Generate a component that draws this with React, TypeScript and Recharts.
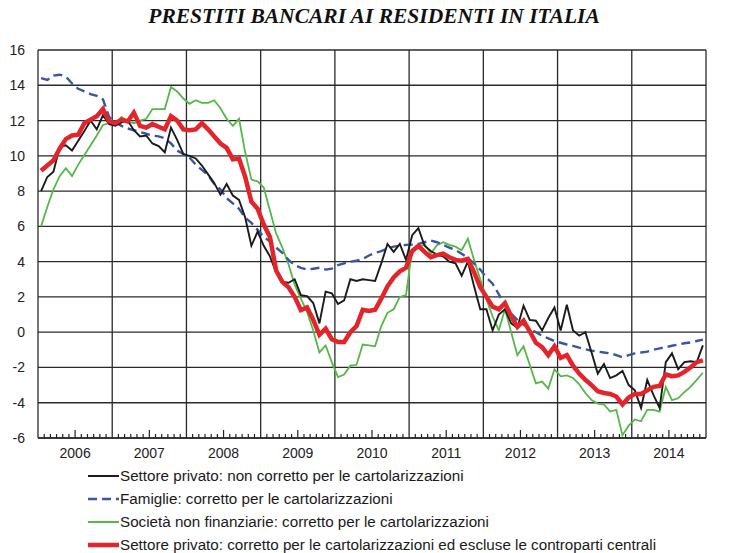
import React from 'react';
import { LineChart, Line, XAxis, YAxis, CartesianGrid, ReferenceLine } from 'recharts';

// Tassi di crescita sui 12 mesi, dati mensili gen 2006 - dic 2014
const years = ['2006', '2007', '2008', '2009', '2010', '2011', '2012', '2013', '2014'];

const privatoNonCorretto = [
  8.0, 8.8, 9.1, 10.5, 10.6, 10.3, 10.85, 11.4, 12.0, 11.5, 12.3, 11.8,
  11.7, 11.9, 12.0, 11.45, 11.1, 11.15, 10.7, 10.55, 10.2, 11.6, 10.9, 10.1,
  10.0, 9.85, 9.45, 8.95, 8.45, 7.8, 8.4, 7.75, 7.5, 6.5, 4.9, 5.7,
  4.9, 4.3, 3.4, 2.85, 2.8, 3.0, 2.1, 2.05, 1.65, 0.5, 2.3, 2.2,
  1.6, 1.8, 3.0, 2.9, 3.0, 2.95, 2.9, 3.9, 5.0, 4.55, 5.0, 4.1,
  5.5, 5.9, 4.9, 4.6, 4.4, 4.3, 4.0, 3.9, 3.2, 4.0, 2.6, 1.3,
  1.3, 0.1, 1.0, 1.3, 0.5, 0.25, 1.5, 0.7, 0.65, 0.1, 0.8, 1.4,
  0.1, 1.55, 0.1, -0.2, 0.0, -1.15, -2.35, -1.8, -2.6, -2.45, -2.2, -3.0,
  -3.3, -4.3, -2.7, -3.55, -4.3, -1.7, -1.2, -2.1, -1.7, -1.65, -1.7, -0.75,
];

const famiglie = [
  14.4, 14.3, 14.55, 14.6, 14.5, 14.1, 13.8, 13.65, 13.5, 13.4, 13.2, 12.2,
  11.9, 11.7, 11.55, 11.45, 11.35, 11.25, 11.15, 11.1, 11.0, 10.7, 10.3, 10.1,
  9.9, 9.5, 9.2, 8.9, 8.4, 8.1, 7.6, 7.3, 7.0, 6.5, 6.2, 5.8,
  5.4, 5.15, 4.8, 4.5, 4.1, 3.8, 3.65, 3.55, 3.6, 3.65, 3.55, 3.6,
  3.8, 3.9, 4.0, 4.05, 4.15, 4.35, 4.5, 4.6, 4.75, 4.85, 4.9, 4.95,
  4.97, 5.0, 5.1, 5.2, 5.1, 4.95, 4.8, 4.65, 4.45, 4.2, 3.9, 3.55,
  3.1, 2.75, 2.15, 1.55, 1.05, 0.7, 0.42, 0.2, 0.0, -0.2, -0.35, -0.5,
  -0.6, -0.7, -0.78, -0.88, -0.97, -1.05, -1.1, -1.15, -1.2, -1.3, -1.42, -1.3,
  -1.2, -1.15, -1.1, -1.0, -0.92, -0.85, -0.77, -0.7, -0.63, -0.58, -0.5, -0.42,
];

const societaNonFinanziarie = [
  6.0, 7.1, 8.1, 8.85, 9.3, 8.85, 9.5, 10.05, 10.6, 11.15, 11.75, 11.85,
  11.8, 12.2, 11.95, 11.85, 12.0, 12.1, 12.65, 12.65, 12.65, 13.9, 13.65, 13.25,
  12.95, 13.15, 13.0, 13.0, 13.15, 12.7, 12.1, 11.7, 12.1, 10.2, 8.65, 8.55,
  8.2, 6.9, 5.6, 4.8, 3.85, 2.7, 1.9, 1.15, 0.1, -1.15, -0.75, -1.7,
  -2.55, -2.4, -1.9, -1.85, -0.7, -0.75, -0.8, 0.35, 1.1, 1.3, 2.0, 2.1,
  4.7, 4.75, 5.0, 4.45, 4.93, 5.1, 4.95, 4.85, 4.65, 5.3, 4.1, 3.0,
  1.85, 0.9, 0.1, 1.3, 0.0, -1.3, -0.8, -1.85, -2.9, -2.8, -3.2, -2.1,
  -2.5, -2.45, -2.6, -2.95, -3.45, -3.85, -4.05, -4.1, -4.5, -4.4, -5.85, -5.3,
  -4.95, -5.05, -4.4, -4.4, -4.5, -3.1, -3.85, -3.75, -3.4, -3.1, -2.7, -2.3,
];

const privatoCorretto = [
  9.15, 9.45, 9.75, 10.4, 10.95, 11.15, 11.2, 11.85, 12.05, 12.25, 12.65, 11.95,
  11.85, 12.05, 11.95, 12.45, 11.7, 11.6, 11.8, 11.65, 11.5, 12.25, 12.0, 11.5,
  11.45, 11.5, 11.85, 11.5, 11.1, 10.7, 10.45, 9.8, 9.85, 8.8, 7.4, 7.0,
  6.1, 5.4, 3.5, 2.85, 2.55, 2.0, 1.25, 1.4, 0.7, -0.15, 0.2, -0.4,
  -0.55, -0.55, 0.0, 0.35, 1.27, 1.2, 1.27, 1.9, 2.6, 3.1, 3.45, 3.65,
  4.6, 4.9, 4.55, 4.25, 4.37, 4.45, 4.25, 4.1, 4.05, 4.15, 3.4, 2.55,
  2.0, 1.45, 1.3, 1.65, 0.9, 0.3, 0.65, 0.05, -0.6, -0.85, -1.3, -0.8,
  -1.45, -1.3, -1.9, -2.35, -2.7, -3.0, -3.35, -3.45, -3.5, -3.65, -4.1, -3.7,
  -3.5, -3.5, -3.3, -3.1, -3.05, -2.4, -2.5, -2.45, -2.25, -2.0, -1.7, -1.6,
];

const yTicks = [-6, -4, -2, 0, 2, 4, 6, 8, 10, 12, 14, 16];
const monthTicks = Array.from({ length: years.length * 12 + 1 }, (_, k) => k);
const yearBounds = monthTicks.filter((m) => m % 12 === 0);

const data = privatoNonCorretto.map((v, i) => ({
  t: i + 0.5,
  privato: v,
  famiglie: famiglie[i],
  societa: societaNonFinanziarie[i],
  corretto: privatoCorretto[i],
}));

const legendItems = [
  { label: 'Settore privato: non corretto per le cartolarizzazioni', color: '#1b1b1b', width: 2, dash: undefined },
  { label: 'Famiglie: corretto per le cartolarizzazioni', color: '#3a55a4', width: 2.4, dash: '9 5' },
  { label: 'Società non finanziarie: corretto per le cartolarizzazioni', color: '#55b848', width: 2, dash: undefined },
  { label: 'Settore privato: corretto per le cartolarizzazioni ed escluse le controparti centrali', color: '#e3242b', width: 4.5, dash: undefined },
];

const SANS = '"Liberation Sans", Arial, sans-serif';

// month ticks pointing up into the plot, year label under mid-year tick
const MonthTick = (props: any) => {
  const { x, y, payload } = props;
  const m = payload.value;
  if (m % 12 === 0) return <g />;
  const mid = m % 12 === 6;
  return (
    <g>
      <line x1={x} x2={x} y1={y} y2={y - (mid ? 8 : 4)} stroke="#222" strokeWidth={1.2} />
      {mid && (
        <text x={x} y={y + 20} textAnchor="middle" fontSize={14} fontFamily={SANS} fill="#222">
          {years[(m - 6) / 12]}
        </text>
      )}
    </g>
  );
};

const RightTick = (props: any) => {
  const { x, y, payload } = props;
  return (
    <text x={x + 25} y={y} dy="0.36em" textAnchor="middle" fontSize={14} fontFamily={SANS} fill="#222">
      {payload.value}
    </text>
  );
};

export default function App() {
  return (
    <div style={{ position: 'absolute', left: 0, top: 0, width: 742, height: 553, background: '#fff', overflow: 'hidden' }}>
      <div
        style={{
          position: 'absolute', left: 0, top: 4, width: 748, textAlign: 'center',
          fontFamily: '"Liberation Serif", "Times New Roman", serif', fontWeight: 'bold',
          fontStyle: 'italic', fontSize: 21.5, color: '#111', whiteSpace: 'nowrap',
        }}
      >
        PRESTITI BANCARI AI RESIDENTI IN ITALIA
      </div>
      <LineChart width={742} height={470} data={data} margin={{ top: 50, right: 0, left: 0, bottom: 0 }}>
        <CartesianGrid vertical={false} stroke="#2a2a2a" strokeWidth={1.3} />
        <XAxis
          dataKey="t"
          type="number"
          domain={[0, 108]}
          ticks={monthTicks}
          interval={0}
          tick={<MonthTick />}
          tickLine={false}
          tickSize={0}
          tickMargin={0}
          height={32}
          axisLine={{ stroke: '#2a2a2a', strokeWidth: 1.3 }}
        />
        <YAxis
          domain={[-6, 16]}
          ticks={yTicks}
          interval={0}
          width={38}
          tickLine={false}
          axisLine={false}
          tickSize={0}
          tickMargin={13}
          tick={{ fontSize: 14, fill: '#222', fontFamily: SANS }}
        />
        <YAxis
          yAxisId="r"
          orientation="right"
          domain={[-6, 16]}
          ticks={yTicks}
          interval={0}
          width={36}
          tickLine={false}
          axisLine={false}
          tickSize={0}
          tickMargin={0}
          tick={<RightTick />}
        />
        {yearBounds.map((m) => (
          <ReferenceLine key={m} x={m} stroke="#2a2a2a" strokeWidth={1.3} />
        ))}
        <Line dataKey="societa" stroke="#55b848" strokeWidth={1.8} dot={false} isAnimationActive={false} />
        <Line dataKey="famiglie" stroke="#3a55a4" strokeWidth={2.4} strokeDasharray="9 5" dot={false} isAnimationActive={false} />
        <Line dataKey="privato" stroke="#1b1b1b" strokeWidth={1.9} dot={false} isAnimationActive={false} />
        <Line dataKey="corretto" stroke="#e3242b" strokeWidth={4.5} dot={false} isAnimationActive={false} />
      </LineChart>
      <div style={{ position: 'absolute', left: 88, top: 464, width: 650, fontFamily: SANS, fontSize: 15.2, color: '#1a1a1a' }}>
        {legendItems.map((s) => (
          <div key={s.label} style={{ display: 'flex', alignItems: 'center', height: 23, whiteSpace: 'nowrap' }}>
            <svg width={32} height={10} style={{ flexShrink: 0 }}>
              <line x1={0} x2={31} y1={5} y2={5} stroke={s.color} strokeWidth={s.width} strokeDasharray={s.dash} />
            </svg>
            <span style={{ lineHeight: 1 }}>{s.label}</span>
          </div>
        ))}
      </div>
    </div>
  );
}
